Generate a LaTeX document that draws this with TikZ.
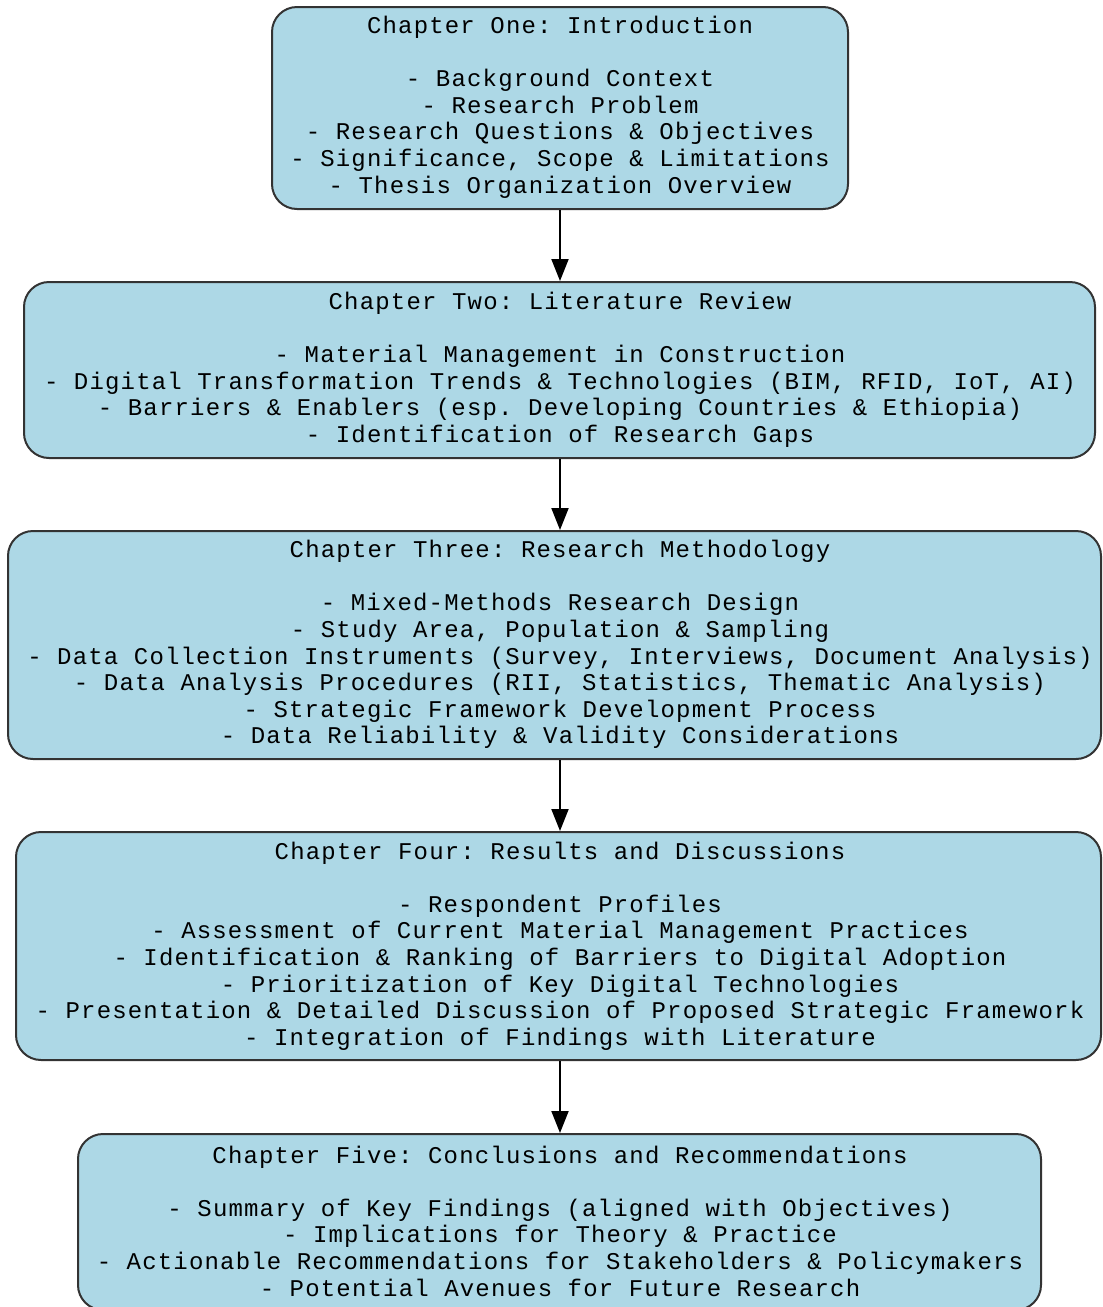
\documentclass[tikz,border=0pt]{standalone}
\usepackage{fontspec}
\setmonofont{Liberation Mono}[LetterSpace=4.9]
\usetikzlibrary{arrows.meta}
\definecolor{boxfill}{HTML}{ADD8E6}
\definecolor{boxline}{HTML}{333333}
\tikzset{
  chapbox/.style={draw=boxline, fill=boxfill, line width=2pt, rounded corners=25pt, inner sep=0pt},
  chaptext/.style={inner sep=0pt, align=center, font=\ttfamily\fontsize{24pt}{26.6pt}\selectfont, text=black},
  flow/.style={draw=black, line width=2pt, -{Triangle[width=17pt,length=22pt]}}
}
\begin{document}
\begin{tikzpicture}[x=1pt,y=-1pt]
\useasboundingbox (0,0) rectangle (1103,1307);
\node[chapbox, minimum width=576pt, minimum height=202pt] (c1) at (560,108) {};
\node[chapbox, minimum width=1071pt, minimum height=176pt] (c2) at (559.5,370) {};
\node[chapbox, minimum width=1093pt, minimum height=228pt] (c3) at (554.5,645) {};
\node[chapbox, minimum width=1085pt, minimum height=228pt] (c4) at (558.5,946) {};
\node[chapbox, minimum width=963pt, minimum height=176pt] (c5) at (559.5,1222) {};

\node[chaptext] (t1) at (560,107) {Chapter One: Introduction\\[26.6pt]- Background Context\\- Research Problem\\- Research Questions \& Objectives\\- Significance, Scope \& Limitations\\- Thesis Organization Overview};
\node[chaptext] (t2) at (560,369.5) {Chapter Two: Literature Review\\[26.6pt]- Material Management in Construction\\- Digital Transformation Trends \& Technologies (BIM, RFID, IoT, AI)\\- Barriers \& Enablers (esp. Developing Countries \& Ethiopia)\\- Identification of Research Gaps};
\node[chaptext] (t3) at (560,644.5) {Chapter Three: Research Methodology\\[26.6pt]- Mixed-Methods Research Design\\- Study Area, Population \& Sampling\\- Data Collection Instruments (Survey, Interviews, Document Analysis)\\- Data Analysis Procedures (RII, Statistics, Thematic Analysis)\\- Strategic Framework Development Process\\- Data Reliability \& Validity Considerations};
\node[chaptext] (t4) at (560,946) {Chapter Four: Results and Discussions\\[26.6pt]- Respondent Profiles\\- Assessment of Current Material Management Practices\\- Identification \& Ranking of Barriers to Digital Adoption\\- Prioritization of Key Digital Technologies\\- Presentation \& Detailed Discussion of Proposed Strategic Framework\\- Integration of Findings with Literature};
\node[chaptext] (t5) at (560,1221) {Chapter Five: Conclusions and Recommendations\\[26.6pt]- Summary of Key Findings (aligned with Objectives)\\- Implications for Theory \& Practice\\- Actionable Recommendations for Stakeholders \& Policymakers\\- Potential Avenues for Future Research};

\draw[flow] (c1.south -| t1.center) -- (c2.north -| t1.center);
\draw[flow] (c2.south -| t1.center) -- (c3.north -| t1.center);
\draw[flow] (c3.south -| t1.center) -- (c4.north -| t1.center);
\draw[flow] (c4.south -| t1.center) -- (c5.north -| t1.center);
\end{tikzpicture}
\end{document}
